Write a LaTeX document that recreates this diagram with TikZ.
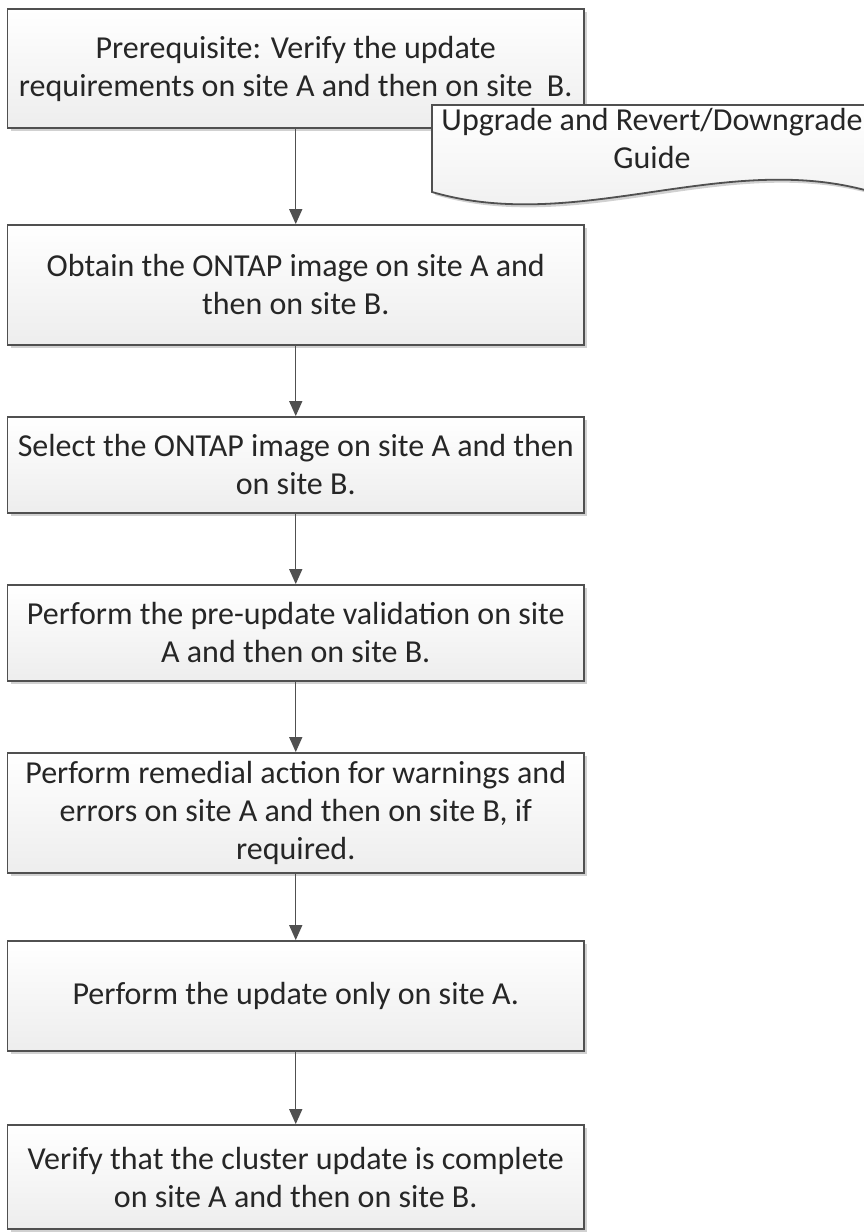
\documentclass[tikz,border=0pt]{standalone}
\usepackage{fontspec}
\setmainfont{Carlito}
\usetikzlibrary{arrows.meta,shadows}
\definecolor{edgecol}{HTML}{505050}
\definecolor{txtcol}{HTML}{262626}
\begin{document}
\begin{tikzpicture}[x=1pt,y=-1pt,
  stepbox/.style={draw=edgecol,line width=1.8pt,top color=white,bottom color=black!7,
    minimum width=576.5pt,inner sep=0pt,align=center,
    font=\fontsize{32}{38}\selectfont,text=txtcol,
    drop shadow={shadow xshift=3pt,shadow yshift=-3pt,opacity=0.18,fill=black}},
  docshape/.style={draw=edgecol,line width=1.8pt,top color=white,bottom color=black!7,
    drop shadow={shadow xshift=3pt,shadow yshift=-3pt,opacity=0.18,fill=black}},
  doctext/.style={inner sep=0pt,align=center,font=\fontsize{32}{38}\selectfont,text=txtcol},
  conn/.style={draw=edgecol,line width=1.4pt,-{Triangle[length=15pt,width=13pt]}}]
\useasboundingbox (0,0) rectangle (864,1232);

\node[stepbox,minimum height=119pt] (s1) at (295.75,68.5)
  {Prerequisite: Verify the update\\requirements on site A and then on site\ \ B.};
\node[stepbox,minimum height=120pt] (s2) at (295.75,285)
  {Obtain the ONTAP image on site A and\\then on site B.};
\node[stepbox,minimum height=96pt] (s3) at (295.75,465)
  {Select the ONTAP image on site A and then\\on site B.};
\node[stepbox,minimum height=96pt] (s4) at (295.75,633)
  {Perform the pre-update validation on site\\A and then on site B.};
\node[stepbox,minimum height=120pt] (s5) at (295.75,813)
  {Perform remedial action for warnings and\\errors on site A and then on site B, if\\required.};
\node[stepbox,minimum height=110pt] (s6) at (295.75,996)
  {Perform the update only on site A.};
\node[stepbox,minimum height=104pt] (s7) at (295.75,1177)
  {Verify that the cluster update is complete\\on site A and then on site B.};

\path[docshape] (432,105) -- (872,105) -- (872,192)
  .. controls (725.3,149.3) and (578.7,234.7) .. (432,192) -- cycle;
\node[doctext,anchor=base] (doc) at (652,168) {Upgrade and Revert/Downgrade\\Guide};

\draw[conn] (s1) -- (s2);
\draw[conn] (s2) -- (s3);
\draw[conn] (s3) -- (s4);
\draw[conn] (s4) -- (s5);
\draw[conn] (s5) -- (s6);
\draw[conn] (s6) -- (s7);
\end{tikzpicture}
\end{document}
